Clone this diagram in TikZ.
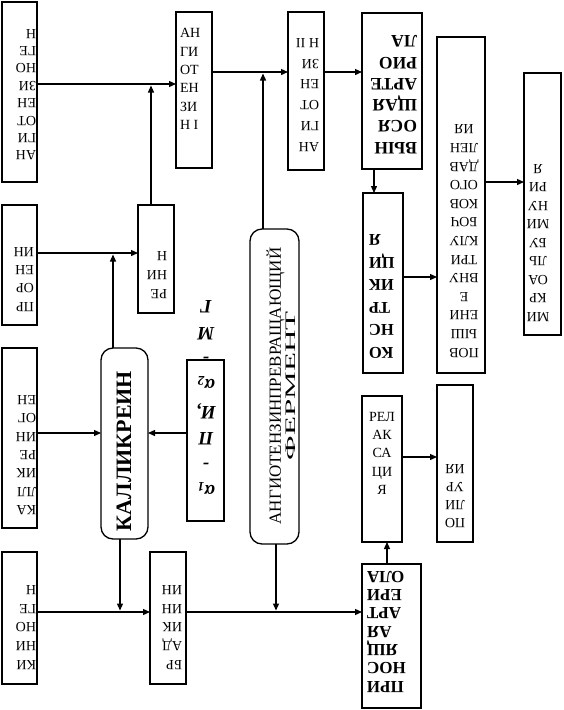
\documentclass[tikz,border=0pt]{standalone}
\usepackage{fontspec}
\usepackage{graphicx}
\setmainfont{Liberation Serif}
\usetikzlibrary{arrows.meta,fit,calc}
% rotated 180 text: #1 name, #2 x, #3 image y of first line centre, #4 font size, #5 baselineskip, #6 anchor, #7 options, #8 font extras, #9 text
\newcommand\rtext[9]{%
  \node[inner sep=0pt, outer sep=0pt, rotate=180, anchor=#6, #7,
        font={\fontsize{#4}{#5}\selectfont#8}] (#1) at (#2,{#3-0.33*#4+0.7*#5}) {\strut #9};}
\newcommand\utext[9]{%
  \node[inner sep=0pt, outer sep=0pt, anchor=#6, #7,
        font={\fontsize{#4}{#5}\selectfont#8}] (#1) at (#2,{#3+0.33*#4-0.7*#5}) {\strut #9};}
\begin{document}
\begin{tikzpicture}[x=1pt,y=-1pt,
  bx/.style={draw, line width=1.3pt, inner sep=0pt, outer sep=0pt},
  rbx/.style={bx, rounded corners=12pt},
  arr/.style={line width=1.3pt, -{Triangle[length=7pt,width=6pt]}}]
\fill[white] (0,0) rectangle (563,710);
\useasboundingbox (0,0) rectangle (563,710);
% boxes
\node[bx, fit={(2,2) (37,182)}] (agen) {};
\node[bx, fit={(176,12) (212,168)}] (ang1) {};
\node[bx, fit={(288,12) (324,170)}] (ang2) {};
\node[bx, fit={(362,13) (422,169)}] (eff) {};
\node[bx, fit={(363,193) (403,373)}] (constr) {};
\node[bx, fit={(437,37) (485,373)}] (pres) {};
\node[bx, fit={(524,73) (561,335)}] (micro) {};
\node[bx, fit={(2,205) (37,325)}] (pro) {};
\node[bx, fit={(138,205) (174,313)}] (renin) {};
\node[bx, fit={(2,348) (37,528)}] (kgen) {};
\node[rbx, fit={(101,348) (148,539)}] (kall) {};
\node[bx, fit={(187,360) (224,521)}] (inh) {};
\node[rbx, fit={(250,229) (299,544)}] (ace) {};
\node[bx, fit={(362,396) (402,542)}] (relax) {};
\node[bx, fit={(437,385) (473,542)}] (poly) {};
\node[bx, fit={(2,552) (37,684)}] (kin) {};
\node[bx, fit={(150,552) (186,684)}] (brady) {};
\node[bx, fit={(362,564) (421,708)}] (aff) {};
% texts
\rtext{agenT}{36}{155.5}{14}{17.4}{north west}{align=left}{}{АН\\ГИ\\ОТ\\ЕН\\ЗИ\\НО\\ГЕ\\Н}
\utext{ang1T}{180}{33}{14}{18.4}{north west}{align=left}{}{АН\\ГИ\\ОТ\\ЕН\\ЗИ\\Н I}
\rtext{ang2T}{319}{147}{14}{20.8}{north west}{align=left}{}{АН\\ГИ\\ОТ\\ЕН\\ЗИ\\Н II}
\rtext{effT}{417}{148}{17.5}{21.3}{north west}{align=left}{\bfseries}{ВЫН\\ОСЯ\\ЩАЯ\\АРТЕ\\РИО\\ЛА}
\rtext{constrT}{369}{353}{16.5}{22.6}{north east}{align=right}{\bfseries}{КО\\НС\\ТР\\ИК\\ЦИ\\Я}
\rtext{presT}{464}{352.7}{14}{18.6}{north}{align=center}{}{ПОВ\\ЫШ\\ЕНИ\\Е\\ВНУ\\ТРИ\\КЛУ\\БОЧ\\КОВ\\ОГО\\ДАВ\\ЛЕН\\ИЯ}
\rtext{microT}{538}{316.7}{14}{18.5}{north}{align=center}{}{МИ\\КР\\ОА\\ЛЬ\\БУ\\МИ\\НУ\\РИ\\Я}
\rtext{proT}{34}{306.7}{14}{18.3}{north west}{align=left}{}{ПР\\ОР\\ЕН\\ИН}
\rtext{renT}{167}{294}{14}{18.7}{north west}{align=left}{}{РЕ\\НИ\\Н}
\rtext{kgenT}{36}{510}{14}{18.3}{north west}{align=left}{}{КА\\ЛЛ\\ИК\\РЕ\\ИН\\ОГ\\ЕН}
\rtext{kinT}{36}{665}{14}{18.75}{north west}{align=left}{}{КИ\\НИ\\НО\\ГЕ\\Н}
\rtext{bradT}{182}{665}{14}{18.75}{north west}{align=left}{}{БР\\АД\\ИК\\ИН\\ИН}
\rtext{affT}{367}{686.7}{17}{18.3}{north east}{align=right}{\bfseries}{ПРИ\\НОС\\ЯЩ\\АЯ\\АРТ\\ЕРИ\\ОЛА}
\rtext{polyT}{455}{523}{14}{17.8}{north}{align=center}{}{ПО\\ЛИ\\УР\\ИЯ}
\utext{relT}{382}{416.7}{14}{18.3}{north}{align=center}{}{РЕЛ\\АК\\СА\\ЦИ\\Я}
\rtext{inhT}{206}{491.7}{19}{26.4}{north}{align=center}{\bfseries\itshape}{α\textsubscript{1}\\-\\П\\И,\\α\textsubscript{2}\\-\\М\\Г}
\node[inner sep=0pt, rotate=90, font=\fontsize{22}{26}\selectfont\bfseries] (kallT) at (124,451) {КАЛЛИКРЕИН};
\node[inner sep=0pt, rotate=90, align=center, font=\fontsize{17}{14.5}\selectfont] (aceT) at (281,386)
  {АНГИОТЕНЗИНПРЕВРАЩАЮЩИЙ\\\resizebox{149pt}{9.5pt}{ФЕРМЕНТ}};
% junction coordinates
\coordinate (jRen) at (151,84);
\coordinate (jAce) at (263,72);
\coordinate (jKal) at (113,253);
\coordinate (jKin) at (120,612);
\coordinate (jAce2) at (276,612);
\coordinate (jEff) at (374,0);
\coordinate (jAff) at (387,0);
\coordinate (jCP) at (0,277);
\coordinate (jPM) at (0,182);
\coordinate (jK) at (0,433);
\coordinate (jRP) at (0,457);
% connectors
\draw[arr] (agen.east |- jRen) -- (ang1.west |- jRen);
\draw[arr] (renin.north -| jRen) -- ($(jRen)+(0,1.5)$);
\draw[arr] (ang1.east |- jAce) -- (ang2.west |- jAce);
\draw[arr] (ace.north -| jAce) -- ($(jAce)+(0,1.5)$);
\draw[arr] (ang2.east |- jAce) -- (eff.west |- jAce);
\draw[arr] (eff.south -| jEff) -- (constr.north -| jEff);
\draw[arr] (constr.east |- jCP) -- (pres.west |- jCP);
\draw[arr] (pres.east |- jPM) -- (micro.west |- jPM);
\draw[arr] (pro.east |- jKal) -- (renin.west |- jKal);
\draw[arr] (kall.north -| jKal) -- ($(jKal)+(0,1.5)$);
\draw[arr] (kgen.east |- jK) -- (kall.west |- jK);
\draw[arr] (inh.west |- jK) -- (kall.east |- jK);
\draw[arr] (kall.south -| jKin) -- ($(jKin)+(0,-1.5)$);
\draw[arr] (kin.east |- jKin) -- (brady.west |- jKin);
\draw[arr] (ace.south -| jAce2) -- ($(jAce2)+(0,-1.5)$);
\draw[arr] (brady.east |- jKin) -- (aff.west |- jKin);
\draw[arr] (aff.north -| jAff) -- (relax.south -| jAff);
\draw[arr] (relax.east |- jRP) -- (poly.west |- jRP);
\end{tikzpicture}
\end{document}
